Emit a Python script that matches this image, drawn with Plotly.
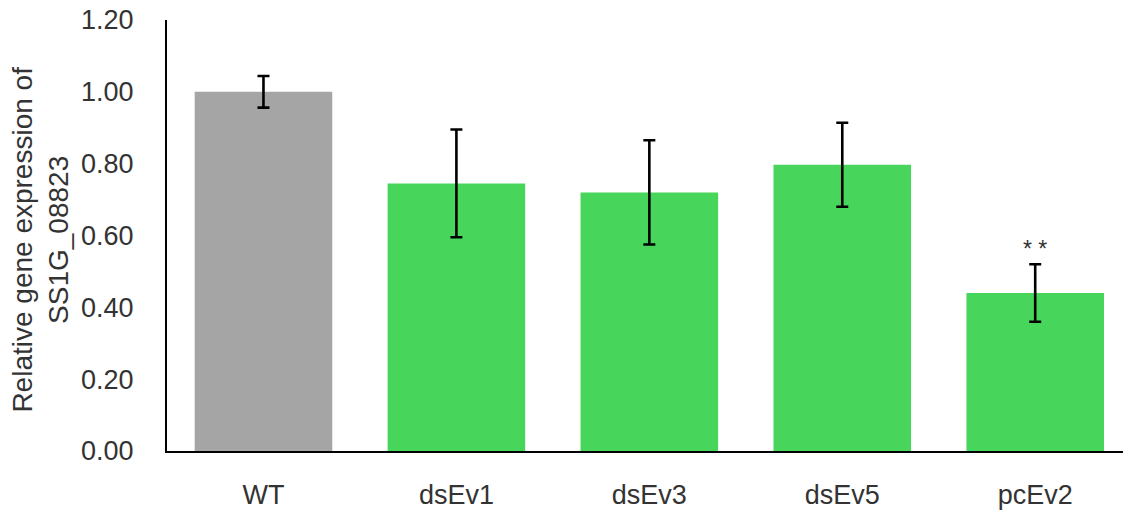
import plotly.graph_objects as go

# Relative expression of SS1G_08823 per strain (mean ± error)
strains = ["WT", "dsEv1", "dsEv3", "dsEv5", "pcEv2"]
expression = [1.00, 0.745, 0.720, 0.797, 0.440]
error = [0.044, 0.150, 0.145, 0.117, 0.080]
bar_colors = ["#A5A5A5", "#48D55C", "#48D55C", "#48D55C", "#48D55C"]
y_ticks = [0.0, 0.2, 0.4, 0.6, 0.8, 1.0, 1.2]
signif_label = "* *"
signif_index = 4

FONT = "Liberation Sans, Arial, sans-serif"
TEXT = "#333333"

fig = go.Figure()
fig.add_trace(go.Bar(
    x=list(range(len(strains))),
    y=expression,
    marker=dict(color=bar_colors, line=dict(width=0)),
    error_y=dict(type="data", array=error, visible=True,
                 color="black", thickness=2.6, width=6),
    showlegend=False,
))

fig.add_annotation(
    x=signif_index, y=expression[signif_index] + error[signif_index],
    xref="x", yref="y", text=signif_label, showarrow=False,
    yanchor="bottom", yshift=0,
    font=dict(family=FONT, size=23, color=TEXT),
)

fig.add_annotation(
    xref="paper", yref="paper", x=-0.132, y=0.49,
    text="Relative gene expression of<br>SS1G_08823",
    textangle=-90, showarrow=False, xanchor="center", yanchor="middle",
    font=dict(family=FONT, size=28, color=TEXT),
)

fig.update_layout(
    width=1123, height=510,
    margin=dict(l=167, r=0, t=20, b=54),
    paper_bgcolor="white", plot_bgcolor="white",
    bargap=0.287,
    font=dict(family=FONT, size=27, color=TEXT),
    xaxis=dict(
        range=[-0.5, 4.455],
        tickmode="array", tickvals=list(range(len(strains))), ticktext=strains,
        showline=True, linecolor="black", linewidth=2,
        showgrid=False, zeroline=False, ticks="",
        ticklabelstandoff=19,
    ),
    yaxis=dict(
        range=[0, 1.2],
        tickmode="array", tickvals=y_ticks,
        tickformat=".2f",
        showline=True, linecolor="black", linewidth=2,
        showgrid=False, zeroline=False, ticks="",
        ticklabelstandoff=26,
    ),
)

fig.write_html("out.html")
